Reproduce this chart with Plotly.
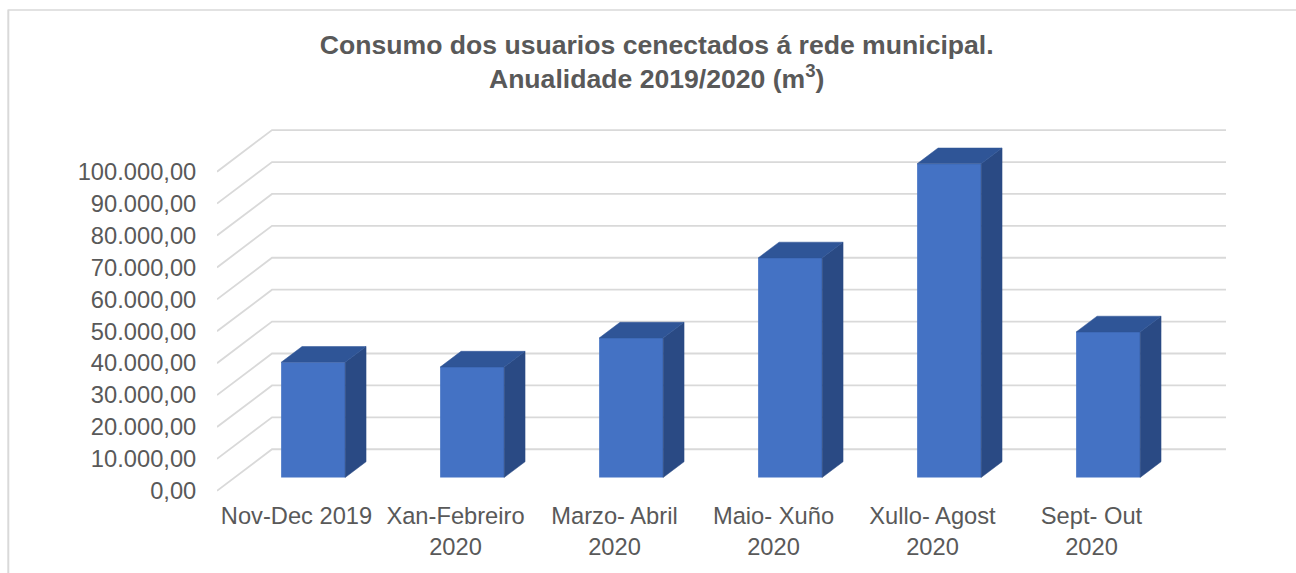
import plotly.graph_objects as go

categories = ["Nov-Dec 2019", "Xan-Febreiro<br>2020", "Marzo- Abril<br>2020", "Maio- Xuño<br>2020", "Xullo- Agost<br>2020", "Sept- Out<br>2020"]
values = [36100, 34600, 43700, 68800, 98300, 45600]
y_ticks = [0, 10000, 20000, 30000, 40000, 50000, 60000, 70000, 80000, 90000, 100000]
title_text = "<b>Consumo dos usuarios cenectados á rede municipal.<br>Anualidade 2019/2020 (m<sup>3</sup>)</b>"

# oblique projection of the Excel 3-D box: full floor depth in axis units
DEPTH_X = 0.346
DEPTH_Y = 13022
BAR_WIDTH = 0.4025
BAR_NEAR = 0.32
BAR_FAR = 0.70
BAR_NUDGE = -0.006

FRONT = "#4472C4"
SIDE = "#2A4A84"
TOP = "#2F5597"
GRID = "#D9D9D9"
TEXT = "#595959"
FONT = "Liberation Sans, Arial, sans-serif"


def project(cat, val, depth):
    return cat + DEPTH_X * depth, val + DEPTH_Y * depth


fig = go.Figure()

cats = list(range(len(values)))
fig.add_trace(go.Bar(
    x=[project(c + BAR_NUDGE, 0, BAR_NEAR)[0] for c in cats],
    y=values,
    base=[project(0, 0, BAR_NEAR)[1]] * len(values),
    width=BAR_WIDTH,
    marker=dict(color=FRONT, line=dict(width=0)),
    showlegend=False,
    hoverinfo="y",
))

for c, v in zip(cats, values):
    a = c + BAR_NUDGE - BAR_WIDTH / 2
    b = c + BAR_NUDGE + BAR_WIDTH / 2
    side = [project(b, 0, BAR_NEAR), project(b, 0, BAR_FAR), project(b, v, BAR_FAR), project(b, v, BAR_NEAR), project(b, 0, BAR_NEAR)]
    top = [project(a, v, BAR_NEAR), project(a, v, BAR_FAR), project(b, v, BAR_FAR), project(b, v, BAR_NEAR), project(a, v, BAR_NEAR)]
    for pts, col in ((side, SIDE), (top, TOP)):
        fig.add_trace(go.Scatter(
            x=[p[0] for p in pts], y=[p[1] for p in pts],
            mode="lines", fill="toself", fillcolor=col,
            line=dict(color=col, width=0.5),
            showlegend=False, hoverinfo="skip",
        ))

x_left = -0.5
x_right = len(values) - 0.5
shapes = []
for t in y_ticks:
    p0 = project(x_left, t, 0)
    p1 = project(x_left, t, 1)
    p2 = project(x_right, t, 1)
    path = f"M {p0[0]} {p0[1]} L {p1[0]} {p1[1]} L {p2[0]} {p2[1]}"
    shapes.append(dict(type="path", path=path, xref="x", yref="y", layer="below",
                       line=dict(color=GRID, width=1.8)))

W, H = 1296, 573
L, R, T, B = 217, 70, 127.4, 79.1
PW = W - L - R
PH = H - T - B
# chart-area border (left and top edges only are visible)
shapes.append(dict(type="line", xref="paper", yref="paper", layer="below",
                   x0=(8.3 - L) / PW, x1=(8.3 - L) / PW, y0=(H - B - 573) / PH, y1=(H - B - 10) / PH,
                   line=dict(color=GRID, width=2)))
shapes.append(dict(type="line", xref="paper", yref="paper", layer="below",
                   x0=(8.3 - L) / PW, x1=(1296 - L) / PW, y0=(H - B - 10.5) / PH, y1=(H - B - 10.5) / PH,
                   line=dict(color=GRID, width=1.5)))

fig.update_layout(
    width=W, height=H,
    margin=dict(l=L, r=R, t=T, b=B, autoexpand=False),
    paper_bgcolor="white", plot_bgcolor="white",
    separators=",.",
    font=dict(family=FONT, color=TEXT, size=23.7),
    title=dict(text=title_text, x=656.7 / W, xanchor="center", y=1 - 53.5 / H, yanchor="middle",
               font=dict(family=FONT, color=TEXT, size=26.6)),
    shapes=shapes,
    showlegend=False,
)
fig.update_xaxes(
    range=[x_left, x_right + DEPTH_X],
    tickmode="array", tickvals=cats, ticktext=categories, tickangle=0,
    showgrid=False, zeroline=False, showline=False,
    ticks="outside", ticklen=1, tickcolor="rgba(0,0,0,0)",
    tickfont=dict(family=FONT, color=TEXT, size=23.7),
)
fig.update_yaxes(
    range=[-1000, 114000],
    tickmode="array", tickvals=y_ticks, tickformat=",.2f",
    showgrid=False, zeroline=False, showline=False,
    ticks="outside", ticklen=15, tickcolor="rgba(0,0,0,0)",
    tickfont=dict(family=FONT, color=TEXT, size=23.7),
)

fig.write_html("out.html", config=dict(displayModeBar=False),
               post_script="document.body.style.margin='0';document.body.style.overflow='hidden';")
